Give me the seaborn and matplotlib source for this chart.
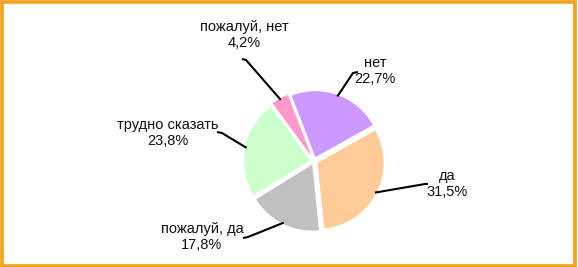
import numpy as np
import matplotlib
matplotlib.use("Agg")
import matplotlib.pyplot as plt
import seaborn as sns
from matplotlib.patches import Rectangle

# данные
labels = ["нет", "да", "пожалуй, да", "трудно сказать", "пожалуй, нет"]
shares = [22.7, 31.5, 17.8, 23.8, 4.2]
colors = ["#CC99FF", "#FFCC99", "#C0C0C0", "#CCFFCC", "#FF99CC"]

sns.set_theme(style="white")
plt.rcParams["font.family"] = ["Liberation Sans", "DejaVu Sans"]

W, H = 578, 267
fig = plt.figure(figsize=(W / 100, H / 100), dpi=100)
ax = fig.add_axes([0, 0, 1, 1])

def py(y):
    # пиксели сверху -> координаты осей
    return H - y

wedges, _ = ax.pie(shares, colors=colors, startangle=111, counterclock=False,
                   radius=66, center=(314, py(161)), explode=[4, 4, 4, 4, 5],
                   wedgeprops=dict(linewidth=0))
ax.set_xlim(0, W)
ax.set_ylim(0, H)
ax.set_aspect("auto")
ax.axis("off")

# размещение подписей (центр текста, излом выноски, конец выноски)
label_pos = {
    "нет": ((375, 71), (353, 73), (358, 72)),
    "да": ((447, 184), (425, 184), (428, 184)),
    "пожалуй, да": ((202, 237), (248, 237), (243, 238)),
    "трудно сказать": ((168, 133), (222, 133), (217, 132)),
    "пожалуй, нет": ((244, 35), (246, 60), (242, 59)),
}

for w, lab, val in zip(wedges, labels, shares):
    mid = np.deg2rad((w.theta1 + w.theta2) / 2)
    cx, cy = w.center
    ax_ = cx + w.r * 0.98 * np.cos(mid)
    ay_ = cy + w.r * 0.98 * np.sin(mid)
    (tx, ty), (ex, ey), (hx, hy) = label_pos[lab]
    ax.plot([ax_, ex, hx], [ay_, py(ey), py(hy)], color="black", lw=1.5,
            solid_capstyle="butt")
    txt = f"{lab}\n{val:.1f}%".replace(".", ",")
    ax.text(tx, py(ty), txt, ha="center", va="center", fontsize=10.5,
            color="#111111", linespacing=1.2)

# оранжевая рамка
fig.patches.append(Rectangle((0.003, 0.005), 0.991, 0.987, transform=fig.transFigure,
                             fill=False, edgecolor="#F5A01A", linewidth=2.6))

fig.savefig("out.png", dpi=100)
